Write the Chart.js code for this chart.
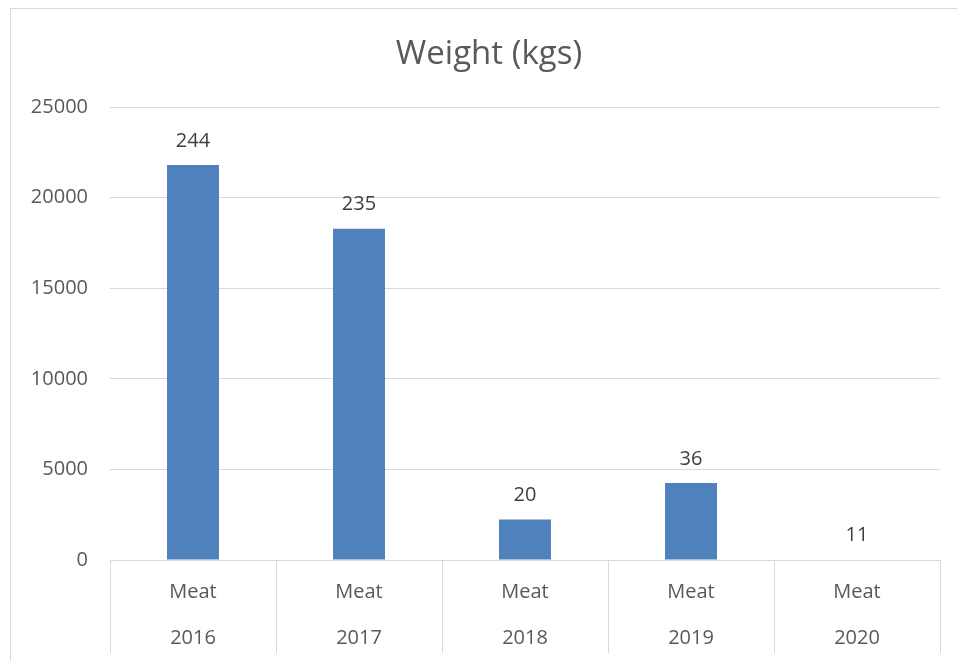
<!DOCTYPE html>
<html>
<head>
<meta charset="utf-8">
<script src="https://cdn.jsdelivr.net/npm/chart.js@4.4.1/dist/chart.umd.min.js"></script>
<style>
  html, body { margin: 0; padding: 0; background: #fff; overflow: hidden; }
  #frame { position: absolute; left: 10px; top: 8px; width: 1000px; height: 700px; border: 1px solid #d9d9d9; }
  #wrap { position: absolute; left: 0; top: 0; width: 957px; height: 661px; }
  #title { position: absolute; left: 0; width: 978px; top: 30px; text-align: center;
           font: 33px 'Open Sans', 'Liberation Sans', sans-serif; line-height: 44px; color: #595959; }
</style>
</head>
<body>
<div id="frame"></div>
<div id="wrap"><canvas id="chart"></canvas></div>
<div id="title">Weight (kgs)</div>
<script>
const products = ['Meat', 'Meat', 'Meat', 'Meat', 'Meat'];
const years = ['2016', '2017', '2018', '2019', '2020'];
const weights = [21800, 18280, 2230, 4250, 30];
const countLabels = ['244', '235', '20', '36', '11'];
const yTicks = [0, 5000, 10000, 15000, 20000, 25000];

const FONT = "'Open Sans', 'Liberation Sans', sans-serif";
const TEXT = '#595959';
const GRID = '#d9d9d9';

// count labels sit above each bar
const barLabels = {
    id: 'barLabels',
    afterDatasetsDraw(chart) {
        const ctx = chart.ctx;
        const meta = chart.getDatasetMeta(0);
        ctx.save();
        ctx.font = `20px ${FONT}`;
        ctx.fillStyle = '#404040';
        ctx.textAlign = 'center';
        ctx.textBaseline = 'middle';
        meta.data.forEach((bar, i) => {
            ctx.fillText(countLabels[i], bar.x, bar.y - 24);
        });
        ctx.restore();
    }
};

new Chart(document.getElementById('chart'), {
    type: 'bar',
    data: {
        labels: products.map((p, i) => [p, years[i]]),
        datasets: [{
            data: weights,
            backgroundColor: '#4f81bd',
            borderWidth: 0,
            barPercentage: 0.313,
            categoryPercentage: 1
        }]
    },
    plugins: [barLabels],
    options: {
        responsive: true,
        maintainAspectRatio: false,
        animation: false,
        layout: { padding: { left: 0, right: 17, top: 107, bottom: 0 } },
        plugins: {
            legend: { display: false },
            tooltip: { enabled: false },
            title: { display: false }
        },
        scales: {
            x: {
                afterFit(scale) { scale.height = 101; },
                grid: {
                    display: true,
                    drawOnChartArea: false,
                    drawTicks: true,
                    tickLength: 93,
                    color: GRID,
                    offset: true
                },
                border: { display: true, color: GRID },
                ticks: {
                    color: TEXT,
                    padding: -84,
                    maxRotation: 0,
                    autoSkip: false,
                    font: { family: FONT, size: 20, lineHeight: 2.3 }
                }
            },
            y: {
                min: yTicks[0],
                max: yTicks[yTicks.length - 1],
                afterFit(scale) { scale.width = 110; },
                grid: { color: GRID, drawTicks: false },
                border: { display: false },
                ticks: {
                    stepSize: 5000,
                    color: TEXT,
                    padding: 22,
                    font: { family: FONT, size: 20 },
                    callback: v => String(v)
                }
            }
        }
    }
});
</script>
</body>
</html>
